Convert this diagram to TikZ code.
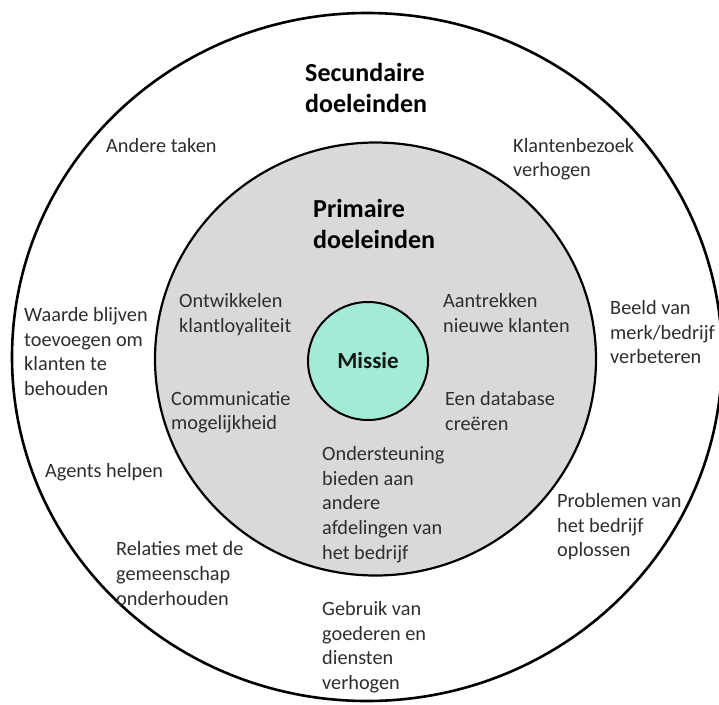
\documentclass[tikz,border=0pt]{standalone}
\usepackage{fontspec}
\usetikzlibrary{shapes.geometric}
\setmainfont{Carlito}
\definecolor{graybg}{HTML}{D9D9D9}
\definecolor{mint}{HTML}{A3EBD6}
\definecolor{txt}{HTML}{2E2E2E}
\tikzset{
  lbl/.style={anchor=north west, inner sep=0pt, align=left, text=txt,
    font=\fontsize{20.3}{24.7}\selectfont},
  ttl/.style={anchor=north west, inner sep=0pt, align=left, text=black,
    font=\fontsize{26}{30.5}\selectfont\bfseries},
  ring/.style={draw=black, line width=2.2pt}
}
\begin{document}
\begin{tikzpicture}[x=1pt,y=-1pt]
\useasboundingbox[fill=white] (0,0) rectangle (719,704);
% outer ring
\draw[ring, line width=2.6pt] (367,357) ellipse [x radius=355, y radius=344];
% inner ring
\draw[ring, fill=graybg] (375.5,359) ellipse [x radius=220.5, y radius=216.5];
% mission
\node[ellipse, draw=black, line width=2pt, fill=mint, minimum width=120pt, minimum height=118pt, inner sep=0pt,
  font=\fontsize{23}{27}\selectfont\bfseries, text=black!90!mint] (missie) at (368,361) {Missie};

\node[ttl] (sec) at (305,63.5) {Secundaire\\doeleinden};
\node[ttl] (prim) at (313,199.5) {Primaire\\doeleinden};

\node[lbl] (andere) at (106,138) {Andere taken};
\node[lbl] (klantbez) at (513,138) {Klantenbezoek\\verhogen};
\node[lbl] (ontw) at (179,293) {Ontwikkelen\\klantloyaliteit};
\node[lbl] (aantr) at (443,293) {Aantrekken\\nieuwe klanten};
\node[lbl] (waarde) at (24,307) {Waarde blijven\\toevoegen om\\klanten te\\behouden};
\node[lbl] (beeld) at (610,300) {Beeld van\\merk/bedrijf\\verbeteren};
\node[lbl] (comm) at (171,391) {Communicatie\\mogelijkheid};
\node[lbl] (db) at (445,391) {Een database\\creëren};
\node[lbl] (onderst) at (322,446) {Ondersteuning\\bieden aan\\andere\\afdelingen van\\het bedrijf};
\node[lbl] (agents) at (45,463) {Agents helpen};
\node[lbl] (probl) at (557,493) {Problemen van\\het bedrijf\\oplossen};
\node[lbl] (relaties) at (116,541.5) {Relaties met de\\gemeenschap\\onderhouden};
\node[lbl] (gebruik) at (322,601) {Gebruik van\\goederen en\\diensten\\verhogen};
\end{tikzpicture}
\end{document}
